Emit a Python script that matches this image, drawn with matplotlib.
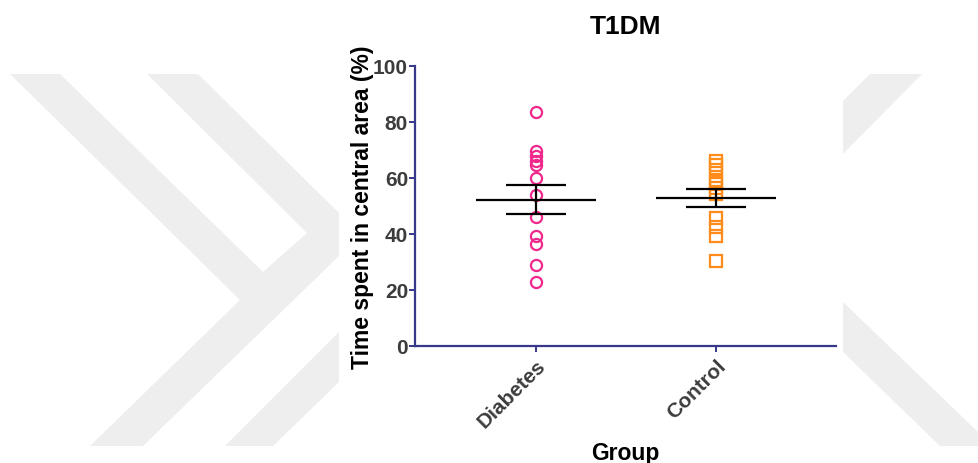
import matplotlib
matplotlib.use('Agg')
import matplotlib.pyplot as plt
from matplotlib.patches import Polygon, Rectangle

plt.rcParams['font.family'] = ['Liberation Sans', 'DejaVu Sans']

GROUPS = ['Diabetes', 'Control']
DIABETES = [83.5, 69.8, 68.0, 66.2, 64.6, 59.9, 53.9, 46.2, 39.4, 36.4, 28.9, 23.0]
CONTROL = [66.2, 64.6, 62.9, 59.4, 57.9, 56.3, 54.3, 45.7, 42.4, 39.2, 30.5]
MEANS = [52.3, 52.9]
SEMS = [5.1, 3.2]

W, H = 979, 464
AXIS_COLOR = '#38388a'
TICK_COLOR = '#3c3c3c'


def px(points):
    # pixel coords (origin top-left) -> figure fraction
    return [(x / W, 1 - y / H) for x, y in points]


def draw_background(fig):
    grey = '#eeeeee'
    shapes = [
        [(10, 75), (60, 75), (263, 273), (307, 234), (147, 75), (198, 75),
         (339, 214), (339, 257), (143, 447), (90, 447), (240, 301)],
        [(339, 333), (339, 383), (273, 447), (225, 447)],
        [(870, 75), (922, 75), (843, 155), (843, 102)],
        [(843, 303), (979, 434), (979, 447), (940, 447), (843, 353)],
    ]
    for s in shapes:
        fig.patches.append(Polygon(px(s), closed=True, transform=fig.transFigure,
                                   facecolor=grey, edgecolor='none', zorder=-3))
    fig.patches.append(Rectangle((339 / W, 0), (843 - 339) / W, 1,
                                 transform=fig.transFigure, facecolor='white',
                                 edgecolor='none', zorder=-2))


def main():
    fig = plt.figure(figsize=(W / 100, H / 100), dpi=100)
    draw_background(fig)

    ax = fig.add_axes([415 / W, 1 - 347 / H, (836 - 415) / W, (347 - 67) / H])
    ax.patch.set_alpha(0)

    xs = range(len(GROUPS))
    ax.plot([0] * len(DIABETES), DIABETES, linestyle='none', marker='o',
            markersize=8, markerfacecolor='none', markeredgecolor='#f0288c',
            markeredgewidth=1.6, zorder=3, clip_on=False)
    ax.plot([1] * len(CONTROL), CONTROL, linestyle='none', marker='s',
            markersize=8, markerfacecolor='none', markeredgecolor='#ff8c1a',
            markeredgewidth=1.6, zorder=3, clip_on=False)

    for x, m, s in zip(xs, MEANS, SEMS):
        ax.hlines(m, x - 0.333, x + 0.333, color='black', linewidth=1.6, zorder=4)
        ax.hlines([m - s, m + s], x - 0.167, x + 0.167, color='black',
                  linewidth=1.6, zorder=4)
        ax.vlines(x, m - s, m + s, color='black', linewidth=1.6, zorder=4)

    ax.set_xlim(-0.672, 1.667)
    ax.set_ylim(0, 100)
    ax.set_yticks([0, 20, 40, 60, 80, 100])
    ax.set_xticks(list(xs))
    ax.set_xticklabels(GROUPS, rotation=45, ha='right', rotation_mode='anchor')

    for side in ['top', 'right']:
        ax.spines[side].set_visible(False)
    for side in ['left', 'bottom']:
        ax.spines[side].set_color(AXIS_COLOR)
        ax.spines[side].set_linewidth(1.6)
    ax.tick_params(axis='both', colors=AXIS_COLOR, width=1.4, length=4,
                   labelcolor=TICK_COLOR, labelsize=15)
    ax.tick_params(axis='y', pad=1)
    ax.tick_params(axis='x', pad=3)
    for lbl in ax.get_xticklabels() + ax.get_yticklabels():
        lbl.set_fontweight('bold')

    ax.set_title('T1DM', fontsize=19, fontweight='bold', pad=24)
    ax.set_xlabel('Group', fontsize=16.5, fontweight='bold', labelpad=7)
    ax.set_ylabel('Time spent in central area (%)', fontsize=16.5,
                  fontweight='bold', labelpad=-1)

    fig.savefig('out.png', dpi=100)


if __name__ == '__main__':
    main()
